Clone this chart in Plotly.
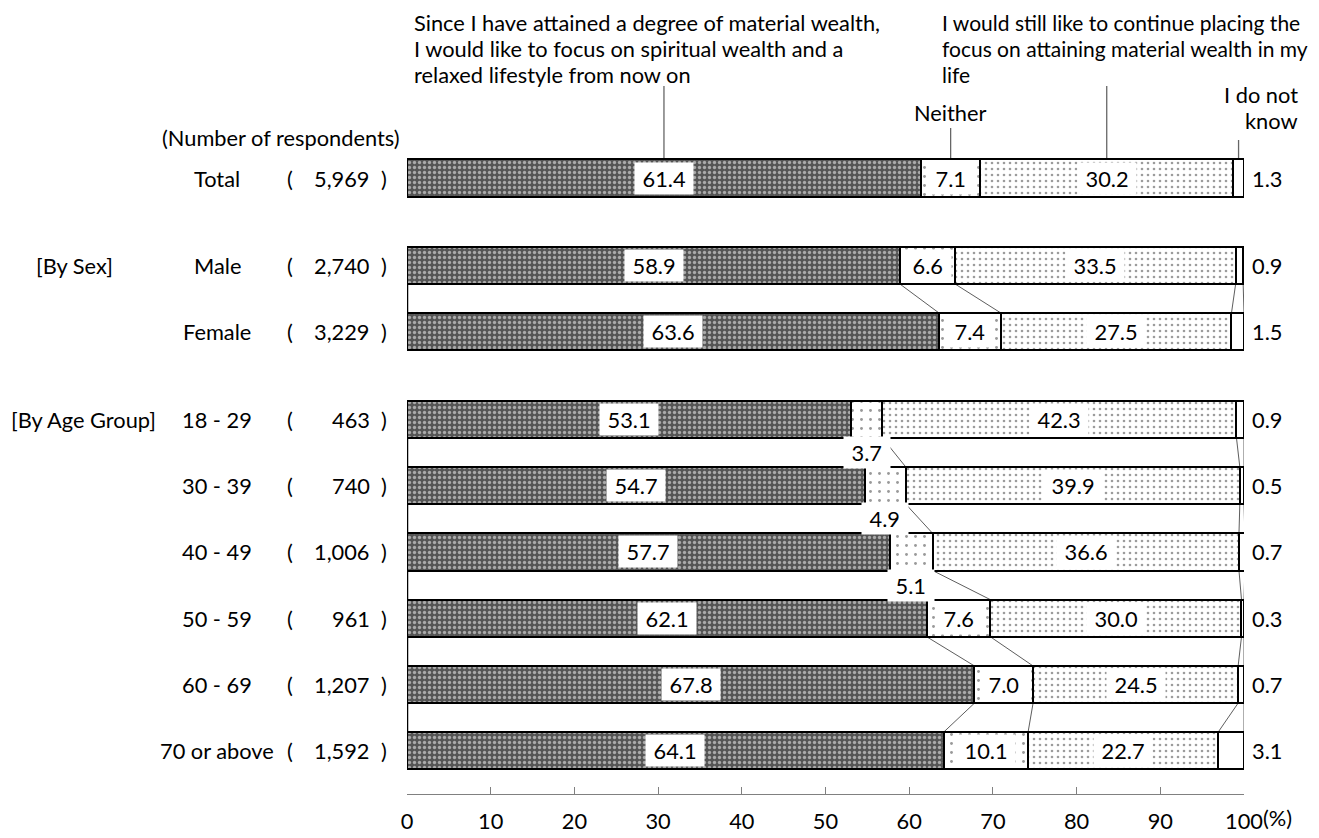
import plotly.graph_objects as go

categories = ["Total", "Male", "Female", "18 - 29", "30 - 39", "40 - 49",
              "50 - 59", "60 - 69", "70 or above"]
respondents = ["5,969", "2,740", "3,229", "463", "740", "1,006", "961", "1,207", "1,592"]
spiritual = [61.4, 58.9, 63.6, 53.1, 54.7, 57.7, 62.1, 67.8, 64.1]
neither = [7.1, 6.6, 7.4, 3.7, 4.9, 5.1, 7.6, 7.0, 10.1]
material = [30.2, 33.5, 27.5, 42.3, 39.9, 36.6, 30.0, 24.5, 22.7]
dontknow = [1.3, 0.9, 1.5, 0.9, 0.5, 0.7, 0.3, 0.7, 3.1]
series_names = [
    "Since I have attained a degree of material wealth,<br>I would like to focus on spiritual wealth and a<br>relaxed lifestyle from now on",
    "Neither",
    "I would still like to continue placing the<br>focus on attaining material wealth in my<br>life",
    "I do not<br>know",
]
tick_vals = [0, 10, 20, 30, 40, 50, 60, 70, 80, 90, 100]
tick_text = ["0", "10", "20", "30", "40", "50", "60", "70", "80", "90", "100"]

# layout helpers (screen pixels; the page body adds an 8px offset)
OFF = 8
W, H = 1319 - OFF, 838 - OFF
rows = [0, 1.32, 2.32, 3.64, 4.64, 5.64, 6.64, 7.64, 8.64]
groups = [[0], [1, 2], [3, 4, 5, 6, 7, 8]]
BW = 0.56
PX0 = 178.0     # screen pixel of row 0
PPU = 66.3      # pixels per y unit
XL = 407        # screen pixel of x=0
FONT = "Lato"
FS = 21.8
NB = "\u00a0"


def py(p):
    return (p - PX0) / PPU


def tfont(size=FS):
    return dict(family=FONT, size=size, color="black")


series = [spiritual, neither, material, dontknow]
patterns = [
    dict(shape=".", fgcolor="white", bgcolor="#555555", size=5, solidity=0.35, fillmode="overlay"),
    dict(shape=".", fgcolor="#333333", bgcolor="white", size=9, solidity=0.08, fillmode="overlay"),
    dict(shape=".", fgcolor="#3a3a3a", bgcolor="white", size=6, solidity=0.15, fillmode="overlay"),
    dict(shape="", bgcolor="white"),
]

fig = go.Figure()
for s, pat, nm in zip(series, patterns, series_names):
    fig.add_trace(go.Bar(
        x=s, y=rows, orientation="h", width=BW, name=nm.replace("<br>", " "),
        marker=dict(color="white", pattern=pat, line=dict(color="black", width=2.5)),
        showlegend=False, hoverinfo="skip",
    ))

annotations = []
shapes = []

# cumulative boundaries
cum = []
for i in range(len(categories)):
    c1 = spiritual[i]
    c2 = c1 + neither[i]
    c3 = c2 + material[i]
    c4 = c3 + dontknow[i]
    cum.append([0, c1, c2, c3, c4])

# value labels
for i in range(len(categories)):
    starts = cum[i][:4]
    vals = [spiritual[i], neither[i], material[i]]
    for k, v in enumerate(vals):
        mid = starts[k] + v / 2
        if k == 1 and v < 6:
            yy = rows[i] + 0.5
        else:
            yy = rows[i]
        annotations.append(dict(x=mid, y=yy, xref="x", yref="y", text=f"{NB}{v:.1f}{NB}",
                                showarrow=False, bgcolor="white", borderpad=2, font=tfont()))
    annotations.append(dict(x=100, y=rows[i], xref="x", yref="y", text=f"{dontknow[i]:.1f}",
                            showarrow=False, xanchor="left", xshift=6, font=tfont()))
    # left labels
    annotations.append(dict(x=0, y=rows[i], xref="paper", yref="y", text=categories[i],
                            showarrow=False, xanchor="center", xshift=217 - XL, font=tfont()))
    annotations.append(dict(x=0, y=rows[i], xref="paper", yref="y", text="(",
                            showarrow=False, xanchor="center", xshift=290 - XL, font=tfont()))
    annotations.append(dict(x=0, y=rows[i], xref="paper", yref="y", text=respondents[i],
                            showarrow=False, xanchor="right", xshift=372 - XL, font=tfont()))
    annotations.append(dict(x=0, y=rows[i], xref="paper", yref="y", text=")",
                            showarrow=False, xanchor="center", xshift=384 - XL, font=tfont()))

annotations += [
    dict(x=0, y=rows[1], xref="paper", yref="y", text="[By Sex]", showarrow=False,
         xanchor="center", xshift=74 - XL, font=tfont()),
    dict(x=0, y=rows[3], xref="paper", yref="y", text="[By Age Group]", showarrow=False,
         xanchor="left", xshift=9 - XL, font=tfont()),
    dict(x=0, y=py(137), xref="paper", yref="y", text="(Number of respondents)", showarrow=False,
         xanchor="center", xshift=281 - XL, font=tfont()),
    dict(x=100, y=0, xref="x", yref="paper", text="(%)", showarrow=False,
         xanchor="left", yanchor="top", xshift=17, yshift=-8, font=tfont()),
]

# top category labels (one annotation per line) with leader lines
mid_total = [cum[0][k] + (cum[0][k + 1] - cum[0][k]) / 2 for k in range(4)]
label_specs = [
    (0, [22, 48, 74], "left", 412, FS),
    (2, [22, 48, 74], "left", 940, 21.0),
    (3, [94, 120], "right", 1300, FS),
]
for idx, ys, anchor, xpx, fs in label_specs:
    for line, ypx in zip(series_names[idx].split("<br>"), ys):
        annotations.append(dict(x=0, y=py(ypx), xref="x", yref="y", text=line,
                                showarrow=False, xanchor=anchor, xshift=xpx - XL,
                                font=tfont(fs)))
annotations.append(dict(x=mid_total[1], y=py(112), xref="x", yref="y", text=series_names[1],
                        showarrow=False, xanchor="center", font=tfont()))

leader_tops = [86, 128, 86, 140]
for k in range(4):
    shapes.append(dict(type="line", xref="x", yref="y", x0=mid_total[k], x1=mid_total[k],
                       y0=py(leader_tops[k]), y1=rows[0] - BW / 2,
                       line=dict(color="#666666", width=1.3), layer="below"))

# series connector lines
for g in groups:
    for a, b in zip(g[:-1], g[1:]):
        for k in range(5):
            shapes.append(dict(type="line", xref="x", yref="y",
                               x0=cum[a][k], x1=cum[b][k],
                               y0=rows[a] + BW / 2, y1=rows[b] - BW / 2,
                               line=dict(color="black" if k == 0 else "#333333",
                                         width=2.5 if k == 0 else 0.8),
                               layer="below"))

PLOT_TOP, PLOT_BOTTOM = 10, 794   # screen pixels
fig.update_layout(
    barmode="stack",
    width=W, height=H,
    margin=dict(l=XL - OFF, r=W - (XL - OFF) - 837, t=PLOT_TOP - OFF,
                b=H - (PLOT_BOTTOM - OFF), autoexpand=False),
    paper_bgcolor="white", plot_bgcolor="white",
    font=tfont(),
    xaxis=dict(range=[0, 100], tickvals=tick_vals, ticktext=tick_text, showgrid=False,
               zeroline=False, showline=True, linecolor="#808080", linewidth=1.3,
               ticks="inside", ticklen=7, tickcolor="#808080", tickwidth=1.3,
               ticklabelstandoff=8, tickfont=tfont(), automargin=False,
               fixedrange=True),
    yaxis=dict(range=[py(PLOT_BOTTOM), py(PLOT_TOP)], visible=False, fixedrange=True,
               automargin=False),
    annotations=annotations,
    shapes=shapes,
    bargap=0,
)

fig.write_html("out.html")
